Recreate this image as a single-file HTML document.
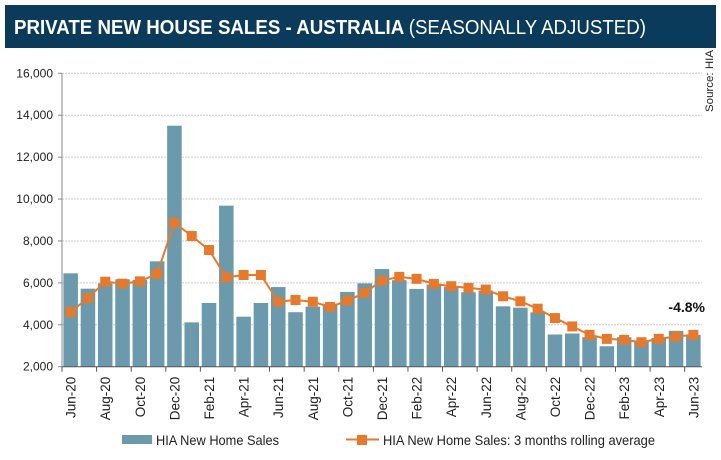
<!DOCTYPE html>
<html><head><meta charset="utf-8"><style>
body{margin:0;background:#fff;font-family:"Liberation Sans",Arial,sans-serif}
svg{display:block}
</style></head><body>
<svg width="721" height="460" viewBox="0 0 721 460">
<rect x="5" y="5" width="711" height="43" fill="#0b3b5b"/>
<text x="14" y="34" fill="#fff" font-size="20" textLength="632" lengthAdjust="spacingAndGlyphs"><tspan font-weight="bold">PRIVATE NEW HOUSE SALES -  AUSTRALIA </tspan><tspan>(SEASONALLY ADJUSTED)</tspan></text>
<text transform="translate(713,112) rotate(-90)" font-size="11" fill="#222" textLength="62" lengthAdjust="spacingAndGlyphs">Source: HIA</text>
<g id="grid"></g><g id="bars"></g><g id="line"></g><g id="axes"></g>
<text x="705" y="312" font-size="14" font-weight="bold" text-anchor="end" fill="#111">-4.8%</text>
<g>
<rect x="122" y="435" width="30" height="9" fill="#6a9aab"/>
<text x="156" y="445" font-size="14" fill="#222" textLength="123" lengthAdjust="spacingAndGlyphs">HIA New Home Sales</text>
<line x1="346" y1="439.5" x2="379" y2="439.5" stroke="#e8792a" stroke-width="2"/>
<rect x="357" y="435" width="10" height="10" fill="#e8792a"/>
<text x="383" y="445" font-size="14" fill="#222" textLength="272" lengthAdjust="spacingAndGlyphs">HIA New Home Sales: 3 months rolling average</text>
</g>
</svg>
<script>
const months=["Jun-20","Jul-20","Aug-20","Sep-20","Oct-20","Nov-20","Dec-20","Jan-21","Feb-21","Mar-21","Apr-21","May-21","Jun-21","Jul-21","Aug-21","Sep-21","Oct-21","Nov-21","Dec-21","Jan-22","Feb-22","Mar-22","Apr-22","May-22","Jun-22","Jul-22","Aug-22","Sep-22","Oct-22","Nov-22","Dec-22","Jan-23","Feb-23","Mar-23","Apr-23","May-23","Jun-23"];
const sales=[6455,5723,5977,6170,6136,7027,13500,4114,5040,9684,4386,5040,5800,4600,4864,5000,5568,5977,6660,6128,5712,5920,5808,5552,5632,4880,4816,4592,3536,3584,3408,2976,3408,3184,3370,3712,3520];
const rolling=[4609,5277,6057,5962,6073,6439,8873,8236,7568,6264,6375,6375,5100,5182,5100,4850,5150,5530,6112,6288,6192,5952,5840,5760,5680,5360,5120,4768,4320,3920,3520,3328,3280,3168,3328,3440,3520];
const yTicks=[2000,4000,6000,8000,10000,12000,14000,16000];
const NS="http://www.w3.org/2000/svg";
const X0=62,X1=702,Y0=366.7,Y1=73.3,VMIN=2000,VMAX=16000;
const slot=(X1-X0)/months.length;
const xc=i=>X0+slot*(i+0.5);
const y=v=>Y0-(v-VMIN)/(VMAX-VMIN)*(Y0-Y1);
function mk(tag,attrs,parent){const e=document.createElementNS(NS,tag);for(const k in attrs)e.setAttribute(k,attrs[k]);document.getElementById(parent).appendChild(e);return e;}
yTicks.forEach(t=>{
  if(t>VMIN){const g=mk('line',{x1:X0,x2:X1,y1:y(t),y2:y(t),stroke:'#ccc','stroke-dasharray':'2,1'},'grid');
  
  }
  const tk=mk('line',{x1:X0-4,x2:X0,y1:y(t),y2:y(t),stroke:'#888'},'axes');
  
  
  const l=mk('text',{x:X0-9,y:y(t)+4,'font-size':12,'text-anchor':'end',fill:'#222'},'axes');
  l.textContent=t.toLocaleString('en-US');
  
  
});
sales.forEach((v,i)=>{
  const r=mk('rect',{x:xc(i)-slot*0.42,width:slot*0.84,y:y(v),height:Y0-y(v),fill:'#6a9aab'},'bars');
  
  
});
const pl=mk('polyline',{points:rolling.map((v,i)=>xc(i)+','+y(v)).join(' '),fill:'none',stroke:'#e8792a','stroke-width':2},'line');


rolling.forEach((v,i)=>{
  const m=mk('rect',{x:xc(i)-5,y:y(v)-5,width:10,height:10,fill:'#e8792a'},'line');
  
  
});
const ax=mk('line',{x1:X0,x2:X0,y1:Y1,y2:Y0,stroke:'#888'},'axes');


const bx=mk('line',{x1:X0,x2:X1,y1:Y0,y2:Y0,stroke:'#555'},'axes');


months.forEach((m,i)=>{
  if(i%2===0){
    const t=mk('line',{x1:X0+slot*i,x2:X0+slot*i,y1:Y0,y2:Y0+5,stroke:'#555'},'axes');
    
    
    const l=mk('text',{transform:`translate(${xc(i)+5},${Y0+10}) rotate(-90)`,'font-size':13.5,'text-anchor':'end',fill:'#222'},'axes');
    l.textContent=m;
    
    
  }
});
</script>
</body></html>
